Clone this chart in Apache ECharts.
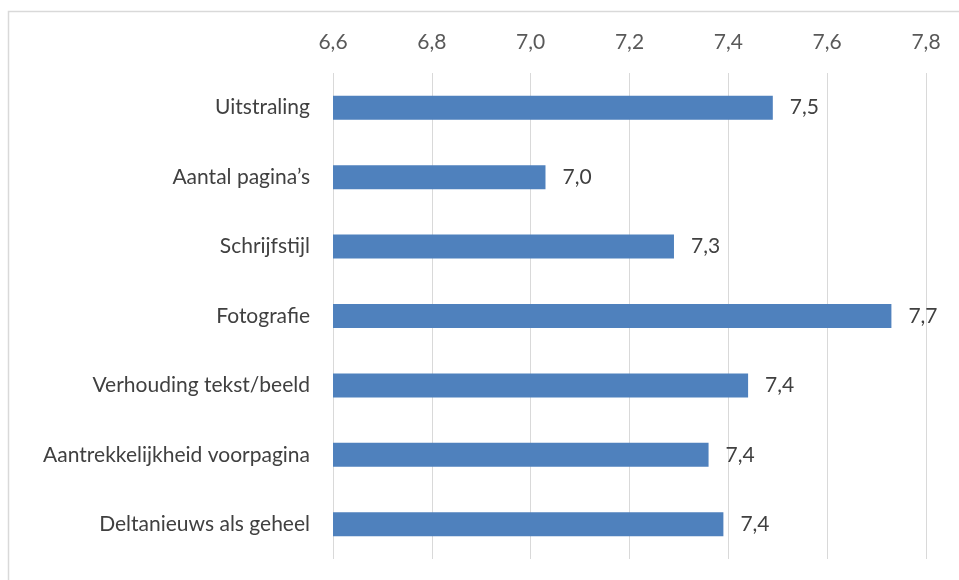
<!DOCTYPE html>
<html>
<head>
<meta charset="utf-8">
<script src="https://cdn.jsdelivr.net/npm/echarts@6/dist/echarts.min.js"></script>
<style>
  html, body { margin: 0; padding: 0; background: #fff; }
  #barChart { width: 959px; height: 580px; }
</style>
</head>
<body>
<div id="barChart"></div>
<script>
    // waarden
    const categories = ['Uitstraling', 'Aantal pagina\u2019s', 'Schrijfstijl', 'Fotografie',
        'Verhouding tekst/beeld', 'Aantrekkelijkheid voorpagina', 'Deltanieuws als geheel']
    const scores = [7.49, 7.03, 7.29, 7.73, 7.44, 7.36, 7.39]
    const axisMin = 6.6
    const axisMax = 7.8
    const axisStep = 0.2

    const comma = v => v.toFixed(1).replace('.', ',')

    let container = echarts.init(document.getElementById('barChart'))
    let option = {
        animation: false,
        textStyle: {
            fontFamily: 'Lato'
        },
        graphic: [{
            type: 'rect',
            shape: { x: 8.5, y: 11.5, width: 1000, height: 1000 },
            style: { fill: 'none', stroke: '#d9d9d9', lineWidth: 1.5 },
            silent: true
        }],
        grid: {
            left: 333,
            right: 33,
            top: 73,
            bottom: 21
        },
        xAxis: {
            type: 'value',
            position: 'top',
            min: axisMin,
            max: axisMax,
            interval: axisStep,
            axisLine: { show: false },
            axisTick: { show: false },
            axisLabel: {
                color: '#595959',
                fontSize: 21,
                margin: 20,
                formatter: v => comma(v)
            },
            splitLine: {
                lineStyle: { color: '#d9d9d9', width: 1 }
            }
        },
        yAxis: {
            type: 'category',
            inverse: true,
            data: categories,
            axisLine: { show: false },
            axisTick: { show: false },
            axisLabel: {
                color: '#404040',
                fontSize: 21,
                margin: 23
            }
        },
        series: [{
            type: 'bar',
            data: scores,
            barWidth: 24,
            itemStyle: { color: '#4f81bd' },
            label: {
                show: true,
                position: 'right',
                distance: 17,
                color: '#404040',
                fontSize: 21,
                formatter: p => comma(p.value)
            }
        }]
    }
    container.setOption(option)
</script>
</body>
</html>
